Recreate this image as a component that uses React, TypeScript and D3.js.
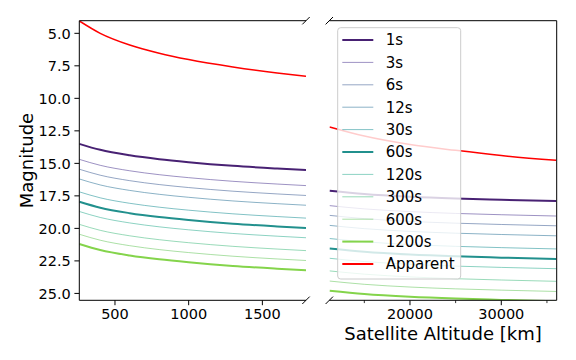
import React from 'react';
import * as d3 from 'd3';

// altitudes (km) sampled in each half of the broken axis
const altLow = [258, 400, 600, 800, 1000, 1300, 1600, 1796];
const altHigh = [11200, 15000, 20000, 25000, 30000, 36000];

const labels = ['1s', '3s', '6s', '12s', '30s', '60s', '120s', '300s', '600s', '1200s', 'Apparent'];

// limiting magnitude per exposure, low altitudes
const magLow = [
  [13.5, 13.96, 14.38, 14.68, 14.91, 15.19, 15.4, 15.52],
  [14.69, 15.15, 15.57, 15.87, 16.1, 16.38, 16.59, 16.71],
  [15.45, 15.91, 16.33, 16.63, 16.86, 17.14, 17.35, 17.47],
  [16.2, 16.66, 17.08, 17.38, 17.61, 17.89, 18.1, 18.22],
  [17.19, 17.65, 18.07, 18.37, 18.6, 18.88, 19.09, 19.21],
  [17.95, 18.41, 18.83, 19.13, 19.36, 19.64, 19.85, 19.97],
  [18.7, 19.16, 19.58, 19.88, 20.11, 20.39, 20.6, 20.72],
  [19.69, 20.15, 20.57, 20.87, 21.1, 21.38, 21.59, 21.71],
  [20.45, 20.91, 21.33, 21.63, 21.86, 22.14, 22.35, 22.47],
  [21.2, 21.66, 22.08, 22.38, 22.61, 22.89, 23.1, 23.22],
  [4.05, 5.0, 5.9, 6.53, 7.02, 7.59, 8.05, 8.3],
];

// same series, high altitudes
const magHigh = [
  [17.1, 17.35, 17.56, 17.7, 17.8, 17.9],
  [18.25, 18.5, 18.71, 18.85, 18.95, 19.05],
  [19.0, 19.25, 19.46, 19.6, 19.7, 19.8],
  [19.77, 20.02, 20.23, 20.37, 20.47, 20.57],
  [20.78, 21.03, 21.24, 21.38, 21.48, 21.58],
  [21.55, 21.8, 22.01, 22.15, 22.25, 22.35],
  [22.3, 22.55, 22.76, 22.9, 23.0, 23.1],
  [23.27, 23.52, 23.73, 23.87, 23.97, 24.07],
  [24.05, 24.3, 24.51, 24.65, 24.75, 24.85],
  [24.8, 25.05, 25.26, 25.4, 25.5, 25.6],
  [12.2, 12.9, 13.55, 14.0, 14.4, 14.77],
];

const colors = ['#482173', '#5b4a9b', '#4e6a9c', '#3e7fa0', '#2e9a9e', '#21908d', '#3fb49a', '#55c28a', '#74cc6a', '#84d44b', '#ff0000'];
const thick = ['1s', '60s', '1200s'];

const yTicks = [5, 7.5, 10, 12.5, 15, 17.5, 20, 22.5, 25];
const xTicksLow = [500, 1000, 1500];
const xTicksHigh = [20000, 30000];
const xMinorHigh = [15000, 25000, 35000];

const FONT = 'DejaVu Sans';

export default function App() {
  const top = 20.7;
  const bottom = 300.3;
  const lx0 = 79.3, lx1 = 306;
  const rx0 = 329.3, rx1 = 556.7;

  const y = d3.scaleLinear().domain([4.03, 25.53]).range([top, bottom]);
  const xl = d3.scaleLinear().domain([258, 1796]).range([lx0, lx1]);
  const xr = d3.scaleLinear().domain([11164, 36068]).range([rx0, rx1]);

  const lineL = d3.line<number>().x((_, i) => xl(altLow[i])).y((d) => y(d)).curve(d3.curveMonotoneX);
  const lineR = d3.line<number>().x((_, i) => xr(altHigh[i])).y((d) => y(d)).curve(d3.curveMonotoneX);

  const style = (i: number) => {
    const isThick = thick.includes(labels[i]) || labels[i] === 'Apparent';
    return {
      stroke: colors[i],
      strokeWidth: labels[i] === 'Apparent' ? 1.5 : isThick ? 2 : 1,
      strokeOpacity: isThick ? 1 : 0.6,
    };
  };

  const brk = (x: number, yy: number) => (
    <line x1={x - 3.7} y1={yy + 3.7} x2={x + 3.7} y2={yy - 3.7} stroke="#000" strokeWidth={1} />
  );

  const legX = 337.7, legY = 27.7;

  return (
    <svg width={576} height={360} style={{ position: 'absolute', left: 0, top: 0, background: '#fff' }} fontFamily={FONT}>
      <defs>
        <clipPath id="clipL"><rect x={lx0} y={top} width={lx1 - lx0} height={bottom - top} /></clipPath>
        <clipPath id="clipR"><rect x={rx0} y={top} width={rx1 - rx0} height={bottom - top} /></clipPath>
      </defs>

      <g clipPath="url(#clipL)" fill="none">
        {magLow.map((s, i) => (
          <path key={i} d={lineL(s) || ''} {...style(i)} />
        ))}
      </g>
      <g clipPath="url(#clipR)" fill="none">
        {magHigh.map((s, i) => (
          <path key={i} d={lineR(s) || ''} {...style(i)} />
        ))}
      </g>

      {/* spines */}
      <g stroke="#000" strokeWidth={1} fill="none">
        <path d={`M${lx1},${top}H${lx0}V${bottom}H${lx1}`} />
        <path d={`M${rx0},${top}H${rx1}V${bottom}H${rx0}`} />
      </g>
      {brk(lx1, top)}
      {brk(lx1, bottom)}
      {brk(rx0, top)}
      {brk(rx0, bottom)}

      {/* y axis */}
      {yTicks.map((t) => (
        <g key={t}>
          <line x1={lx0 - 4.9} x2={lx0} y1={y(t)} y2={y(t)} stroke="#000" strokeWidth={1} />
          <text x={lx0 - 8.5} y={y(t)} dy="0.36em" textAnchor="end" fontSize={14.5} fill="#000">
            {t.toFixed(1)}
          </text>
        </g>
      ))}

      {/* x axes */}
      {xTicksLow.map((t) => (
        <g key={t}>
          <line x1={xl(t)} x2={xl(t)} y1={bottom} y2={bottom + 4.9} stroke="#000" strokeWidth={1} />
          <text x={xl(t)} y={319} textAnchor="middle" fontSize={14.5} fill="#000">{t}</text>
        </g>
      ))}
      {xTicksHigh.map((t) => (
        <g key={t}>
          <line x1={xr(t)} x2={xr(t)} y1={bottom} y2={bottom + 4.9} stroke="#000" strokeWidth={1} />
          <text x={xr(t)} y={319} textAnchor="middle" fontSize={14.5} fill="#000">{t}</text>
        </g>
      ))}
      {xMinorHigh.map((t) => (
        <line key={t} x1={xr(t)} x2={xr(t)} y1={bottom} y2={bottom + 2.8} stroke="#000" strokeWidth={0.8} />
      ))}

      <text x={(rx0 + rx1) / 2} y={340} textAnchor="middle" fontSize={18} fill="#000">
        Satellite Altitude [km]
      </text>
      <text transform={`translate(33,${(top + bottom) / 2}) rotate(-90)`} textAnchor="middle" fontSize={18} fill="#000">
        Magnitude
      </text>

      {/* legend */}
      <rect x={legX} y={legY} width={123} height={251.3} rx={3} fill="#fff" fillOpacity={0.8} stroke="#cccccc" strokeWidth={1} />
      {labels.map((lab, i) => {
        const ly = 40 + i * 22.4;
        const st = style(i);
        return (
          <g key={lab}>
            <line x1={342.3} x2={373.3} y1={ly} y2={ly} {...st} strokeWidth={lab === 'Apparent' ? 2 : st.strokeWidth} />
            <text x={385.7} y={ly} dy="0.36em" fontSize={15} fill="#000">{lab}</text>
          </g>
        );
      })}
    </svg>
  );
}
